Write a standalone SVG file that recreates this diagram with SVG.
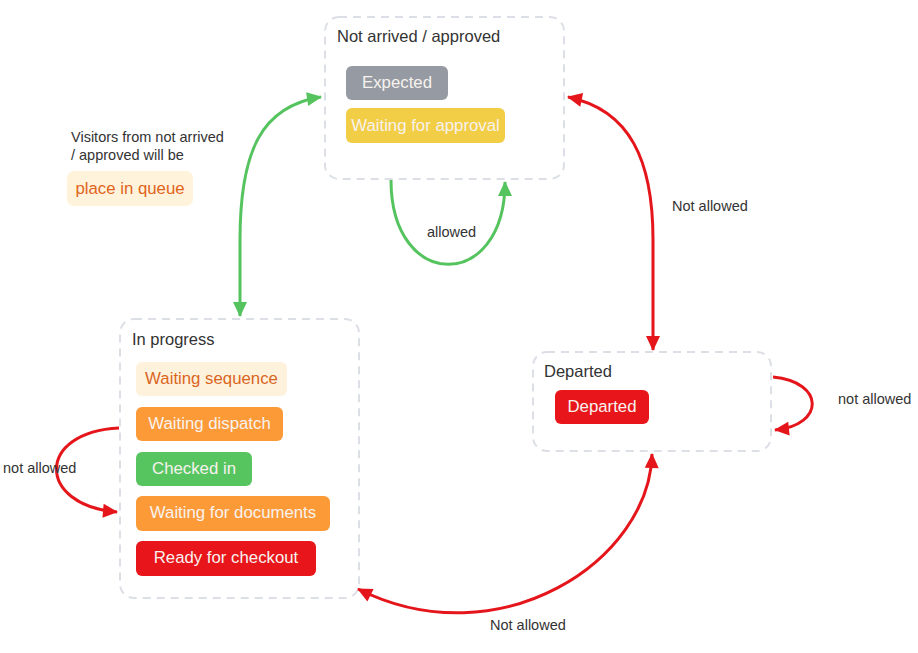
<svg xmlns="http://www.w3.org/2000/svg" width="918" height="653" viewBox="0 0 918 653">
<style>
.box{fill:#fff;stroke:#dcdfe5;stroke-width:2;stroke-dasharray:8 6}
.title{font-family:"Liberation Sans",Arial,sans-serif;font-size:16.5px;fill:#333}
.pill{font-family:"Liberation Sans",Arial,sans-serif;font-size:16.8px;fill:#f7f2ee;text-anchor:middle}
.lbl{font-family:"Liberation Sans",Arial,sans-serif;font-size:14.5px;fill:#333}
.g{fill:none;stroke:#55c35e;stroke-width:3}
.r{fill:none;stroke:#e5161b;stroke-width:3}
</style>
<defs>
<marker id="ag" markerUnits="userSpaceOnUse" markerWidth="18" markerHeight="18" viewBox="0 0 18 18" refX="15" refY="9" orient="auto-start-reverse"><path d="M1 2 L16 9 L1 16 Z" fill="#55c35e"/></marker>
<marker id="ar" markerUnits="userSpaceOnUse" markerWidth="18" markerHeight="18" viewBox="0 0 18 18" refX="15" refY="9" orient="auto-start-reverse"><path d="M1 2 L16 9 L1 16 Z" fill="#e5161b"/></marker>
</defs>

<g id="note">
<text class="lbl" x="71" y="142">Visitors from not arrived</text>
<text class="lbl" x="71" y="160">/ approved will be</text>
<rect x="67" y="171" width="126" height="35" rx="7" fill="#fff3dc"/>
<text class="pill" x="130" y="194" style="fill:#e0641a">place in queue</text>
</g>

<g id="not-arrived">
<rect class="box" x="325" y="17" width="239" height="162" rx="14"/>
<text class="title" x="337" y="42">Not arrived / approved</text>
<rect x="346" y="66" width="102" height="34" rx="6" fill="#969ba3"/>
<text class="pill" x="397" y="88">Expected</text>
<rect x="346" y="108" width="159" height="35" rx="6" fill="#f2cd46"/>
<text class="pill" x="425.5" y="131">Waiting for approval</text>
</g>

<g id="in-progress">
<rect class="box" x="120" y="319" width="239" height="279" rx="14"/>
<text class="title" x="132" y="345">In progress</text>
<rect x="136" y="362" width="151" height="34" rx="6" fill="#fff2dd"/>
<text class="pill" x="211.5" y="384" style="fill:#d9661f">Waiting sequence</text>
<rect x="136" y="407" width="147" height="34" rx="6" fill="#fd9a38"/>
<text class="pill" x="209.5" y="429">Waiting dispatch</text>
<rect x="136" y="452" width="116" height="34" rx="6" fill="#56c560"/>
<text class="pill" x="194" y="474">Checked in</text>
<rect x="136" y="496" width="194" height="35" rx="6" fill="#fd9a38"/>
<text class="pill" x="233" y="518">Waiting for documents</text>
<rect x="136" y="541" width="180" height="35" rx="6" fill="#e8161a"/>
<text class="pill" x="226" y="563">Ready for checkout</text>
</g>

<g id="departed">
<rect class="box" x="533" y="352" width="238" height="99" rx="14"/>
<text class="title" x="544" y="377">Departed</text>
<rect x="555" y="390" width="94" height="34" rx="6" fill="#e8161a"/>
<text class="pill" x="602" y="412">Departed</text>
</g>

<g id="connectors">
<path class="g" d="M321 97 C262 106 240 150 240 240 L240 316" marker-start="url(#ag)" marker-end="url(#ag)"/>
<path class="g" d="M391 180 C391 292 505 292 505 182" marker-end="url(#ag)"/>
<text class="lbl" x="427" y="237">allowed</text>
<path class="r" d="M568 97 C630 110 653 160 653 240 L653 350" marker-start="url(#ar)" marker-end="url(#ar)"/>
<text class="lbl" x="672" y="211">Not allowed</text>
<path class="r" d="M652 454 C650 560 500 660 358 589" marker-start="url(#ar)" marker-end="url(#ar)"/>
<text class="lbl" x="490" y="630">Not allowed</text>
<path class="r" d="M773 377 C825 382 825 425 775 430" marker-end="url(#ar)"/>
<text class="lbl" x="838" y="404">not allowed</text>
<path class="r" d="M119 428 C36 432 36 505 117 512" marker-end="url(#ar)"/>
<text class="lbl" x="3" y="473">not allowed</text>
</g>
</svg>
